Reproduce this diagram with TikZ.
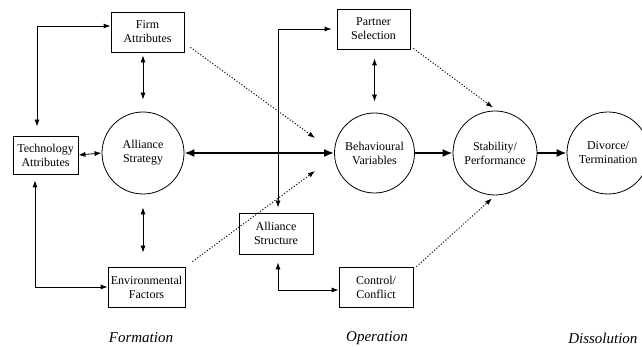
\documentclass[tikz,border=0pt]{standalone}
\usepackage{fontspec}
\setmainfont{Liberation Serif}
\usetikzlibrary{arrows.meta,calc}
\begin{document}
\begin{tikzpicture}[x=1pt,y=-1pt,
  box/.style={draw,line width=0.8pt,rectangle,align=center,inner sep=0pt,font=\fontsize{12}{14}\selectfont},
  circ/.style={draw,line width=0.8pt,circle,align=center,inner sep=0pt,font=\fontsize{12}{14}\selectfont},
  thin/.style={line width=0.8pt},
  dbl/.style={thin,{Latex[length=7pt,width=5pt]}-{Latex[length=7pt,width=5pt]}},
  thick arr/.style={line width=1.8pt,-{Latex[length=10pt,width=8pt]}},
  thick dbl/.style={line width=1.8pt,{Latex[length=10pt,width=8pt]}-{Latex[length=10pt,width=8pt]}},
  dots/.style={line width=0.9pt,dash pattern=on 1.2pt off 1.8pt,-{Latex[length=7pt,width=5pt]}},
  phase/.style={font=\fontsize{15}{18}\selectfont\itshape}]
\useasboundingbox (0,0) rectangle (642,347);
\clip (0,0) rectangle (642,347);
% boxes
\node[box,minimum width=73pt,minimum height=40pt] (firm) at (147.5,32) {Firm\\Attributes};
\node[box,minimum width=65pt,minimum height=38pt] (tech) at (45.5,155) {Technology\\Attributes};
\node[box,minimum width=73pt,minimum height=40pt] (partner) at (373.5,29) {Partner\\Selection};
\node[box,minimum width=74pt,minimum height=41pt] (struct) at (276,233.5) {Alliance\\Structure};
\node[box,minimum width=77pt,minimum height=40pt] (env) at (146.5,287) {Environmental\\Factors};
\node[box,minimum width=74pt,minimum height=40pt] (ctrl) at (376,287) {Control/\\Conflict};
% circles
\node[circ,minimum size=82pt] (strat) at (143,153) {Alliance\\Strategy};
\node[circ,minimum size=80pt] (behav) at (374.5,153) {Behavioural\\Variables};
\node[circ,minimum size=84pt] (stab) at (495,153) {Stability/\\Performance};
\node[circ,minimum size=82pt] (div) at (608,153) {Divorce/\\Termination};
% free ends of dotted arrows
\coordinate (d1) at (315,138);
\coordinate (d2) at (315,171);
% connectors
\draw[dbl,shorten <=3pt,shorten >=12pt] (firm.south -| strat.center) -- (strat.north);
\draw[dbl,shorten <=13pt,shorten >=14pt] (strat.south) -- (env.north -| strat.center);
\draw[dbl] (tech.east) -- (strat.west);
\draw[dbl,shorten <=9pt] ([xshift=-8.5pt]tech.north) |- ([yshift=6pt]firm.west);
\draw[dbl,shorten <=6pt] ([xshift=-10.5pt]tech.south) |- (env.west);
\draw[thick dbl] (strat.east) -- (behav.west);
\draw[thick arr] (behav.east) -- (stab.west);
\draw[thick arr] (stab.east) -- (div.west);
\draw[dbl,shorten <=5pt,shorten >=5pt] ([xshift=2pt]struct.north) |- (partner.west);
\draw[dbl,shorten <=8pt] ([xshift=2pt]struct.south) |- ([yshift=-3pt]ctrl.west);
\draw[dbl,shorten <=9pt,shorten >=11pt] (partner.south -| behav.center) -- (behav.north);
\draw[dots] ([shift={(6,-5)}]firm.south east) -- (d1);
\draw[dots] ([shift={(7,-5)}]env.north east) -- (d2);
\draw[dots] ([shift={(3,-1)}]partner.south east) -- ([shift={(-2,-3)}]stab.north);
\draw[dots] ([shift={(3,0)}]ctrl.north east) -- ([shift={(-3,3)}]stab.south);
% phase labels
\node[phase] (f) at (141,338) {Formation};
\node[phase] (o) at (377,338) {Operation};
\node[phase,anchor=east] (dl) at (641,338) {Dissolution};
\end{tikzpicture}
\end{document}
